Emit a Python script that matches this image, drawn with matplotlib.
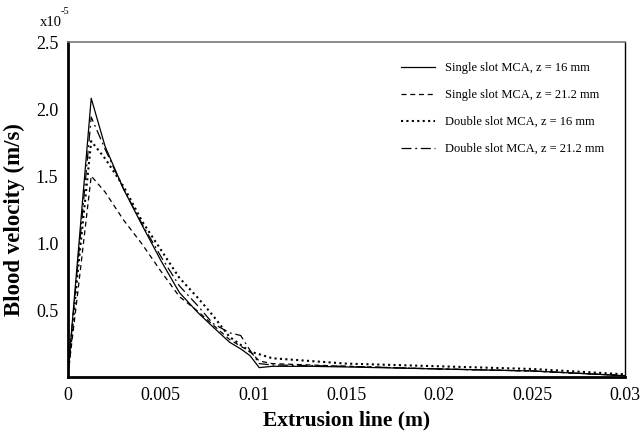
import matplotlib
matplotlib.use("Agg")
import matplotlib.pyplot as plt

# Extrusion line positions (m)
x_pos = [0, 0.0005, 0.00125, 0.002, 0.003, 0.004, 0.005, 0.006, 0.007, 0.0078,
         0.0087, 0.0093, 0.0098, 0.0103, 0.011, 0.013, 0.015, 0.02, 0.025, 0.03]

# Blood velocity, in units of 1e-5 m/s
single_16 = [0.03, 0.85, 2.08, 1.72, 1.40, 1.13, 0.87, 0.63, 0.48, 0.375,
             0.26, 0.21, 0.16, 0.07, 0.08, 0.08, 0.075, 0.06, 0.045, 0.01]
single_21 = [0.02, 0.60, 1.50, 1.38, 1.17, 0.99, 0.79, 0.60, 0.49, 0.39,
             0.28, 0.23, 0.19, 0.12, 0.10, 0.09, 0.08, 0.06, 0.045, 0.01]
double_16 = [0.02, 0.75, 1.76, 1.63, 1.42, 1.16, 0.95, 0.74, 0.59, 0.46,
             0.30, 0.24, 0.19, 0.17, 0.14, 0.12, 0.10, 0.08, 0.06, 0.02]
double_21 = [0.03, 0.80, 1.94, 1.70, 1.40, 1.14, 0.90, 0.68, 0.53, 0.40,
             0.33, 0.31, 0.20, 0.10, 0.09, 0.085, 0.08, 0.06, 0.045, 0.01]

labels = ["Single slot MCA, z = 16 mm", "Single slot MCA, z = 21.2 mm",
          "Double slot MCA, z = 16 mm", "Double slot MCA, z = 21.2 mm"]

x_ticks = [0, 0.005, 0.01, 0.015, 0.02, 0.025, 0.03]
x_tick_labels = ["0", "0.005", "0.01", "0.015", "0.02", "0.025", "0.03"]
y_ticks = [0.5, 1.0, 1.5, 2.0, 2.5]

plt.rcParams['font.family'] = ['Liberation Serif', 'DejaVu Serif']

fig = plt.figure(figsize=(6.44, 4.34), dpi=100)
ax = fig.add_axes([0.1056, 0.1313, 0.8649, 0.7719])

ax.plot(x_pos, single_16, color='black', linewidth=0.9, linestyle='-', label=labels[0])
ax.plot(x_pos, single_21, color='black', linewidth=0.9, linestyle=(0, (4, 3)), label=labels[1])
ax.plot(x_pos, double_16, color='black', linewidth=1.5, linestyle=(0, (1, 1.6)), label=labels[2])
ax.plot(x_pos, double_21, color='black', linewidth=0.9, linestyle=(0, (8, 3, 1.5, 3)), label=labels[3])

ax.set_xlim(0, 0.03)
ax.set_ylim(0, 2.5)
ax.set_xticks(x_ticks)
ax.set_xticklabels(x_tick_labels)
ax.set_yticks(y_ticks)
ax.set_yticklabels(["%.1f" % v for v in y_ticks])
ax.tick_params(length=0, labelsize=13, pad=7)

ax.set_xlabel('Extrusion line (m)', fontsize=15.5, fontweight='bold', labelpad=5)
ax.set_ylabel('Blood velocity (m/s)', fontsize=16.5, fontweight='bold')
ax.yaxis.set_label_coords(-0.077, 0.469)

ax.spines['left'].set_linewidth(2)
ax.spines['bottom'].set_linewidth(2)
ax.spines['top'].set_linewidth(1.2)
ax.spines['top'].set_color('#777777')
ax.spines['right'].set_linewidth(1)

# scale factor note above the y axis
fig.text(40 / 644, 1 - 22 / 434, 'x10', fontsize=10.5, ha='left', va='center')
fig.text(61 / 644, 1 - 12 / 434, '-5', fontsize=7.5, ha='left', va='center')

ax.legend(loc='upper right', frameon=False, fontsize=9, handlelength=2.7,
          labelspacing=1.2, bbox_to_anchor=(0.9706, 0.955), borderaxespad=0)

fig.savefig('out.png', dpi=100)
